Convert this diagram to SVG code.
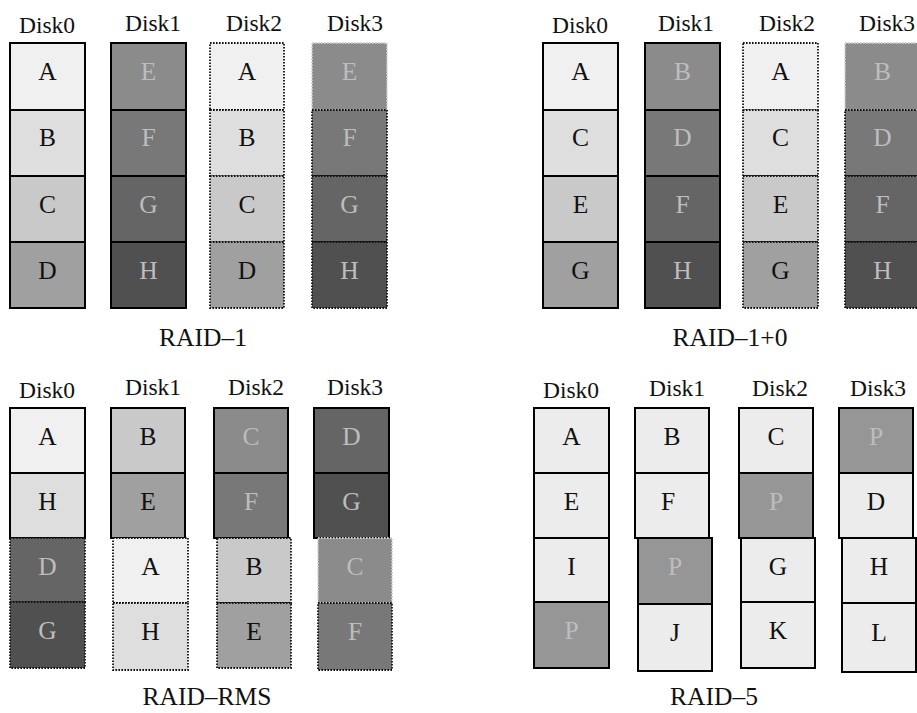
<svg xmlns="http://www.w3.org/2000/svg" width="917" height="713" viewBox="0 0 917 713">
  <style>
    text { font-family: "Liberation Serif", "Times New Roman", serif; text-anchor: middle; }
    .lbl { font-size: 23.5px; fill: #111; }
    .ttl { font-size: 25.5px; fill: #111; }
    .c text { font-size: 25.5px; }
    .s { stroke: #000; stroke-width: 2; }
    .d { stroke: #111; stroke-width: 1.8; stroke-dasharray: 1.6 1.4; }
    .dl { stroke: #d0d0d0; stroke-width: 1.8; stroke-dasharray: 1.6 1.4; }
    .g0 { fill: #f0f0f0; } .g1 { fill: #dedede; } .g2 { fill: #c9c9c9; } .g3 { fill: #a0a0a0; }
    .g4 { fill: #8b8b8b; } .g5 { fill: #787878; } .g6 { fill: #656565; } .g7 { fill: #505050; }
    .g8 { fill: #ececec; } .g9 { fill: #969696; }
    .k { fill: #111; } .w { fill: #bdbdbd; }
  </style>

  <!-- RAID-1 -->
  <g id="raid1">
    <text class="lbl" x="47" y="33">Disk0</text>
    <text class="lbl" x="153" y="31">Disk1</text>
    <text class="lbl" x="254" y="31">Disk2</text>
    <text class="lbl" x="355" y="31">Disk3</text>
    <g id="r1-d0" class="c">
      <g id="r1-d0-a"><rect class="s g0" x="10" y="43" width="75" height="67"/><text class="k" x="47.5" y="79.5">A</text></g>
      <g id="r1-d0-b"><rect class="s g1" x="10" y="110" width="75" height="66"/><text class="k" x="47.5" y="146">B</text></g>
      <g id="r1-d0-c"><rect class="s g2" x="10" y="176" width="75" height="66"/><text class="k" x="47.5" y="212.5">C</text></g>
      <g id="r1-d0-d"><rect class="s g3" x="10" y="242" width="75" height="66"/><text class="k" x="47.5" y="278.5">D</text></g>
    </g>
    <g id="r1-d1" class="c">
      <g id="r1-d1-e"><rect class="s g4" x="111" y="43" width="75" height="67"/><text class="w" x="148.5" y="79.5">E</text></g>
      <g id="r1-d1-f"><rect class="s g5" x="111" y="110" width="75" height="66"/><text class="w" x="148.5" y="146">F</text></g>
      <g id="r1-d1-g"><rect class="s g6" x="111" y="176" width="75" height="66"/><text class="w" x="148.5" y="212.5">G</text></g>
      <g id="r1-d1-h"><rect class="s g7" x="111" y="242" width="75" height="66"/><text class="w" x="148.5" y="278.5">H</text></g>
    </g>
    <g id="r1-d2" class="c">
      <g id="r1-d2-a"><rect class="d g0" x="210" y="43" width="74" height="67"/><text class="k" x="247" y="79.5">A</text></g>
      <g id="r1-d2-b"><rect class="d g1" x="210" y="110" width="74" height="66"/><text class="k" x="247" y="146">B</text></g>
      <g id="r1-d2-c"><rect class="d g2" x="210" y="176" width="74" height="66"/><text class="k" x="247" y="212.5">C</text></g>
      <g id="r1-d2-d"><rect class="d g3" x="210" y="242" width="74" height="66"/><text class="k" x="247" y="278.5">D</text></g>
    </g>
    <g id="r1-d3" class="c">
      <g id="r1-d3-e"><rect class="dl g4" x="312" y="43" width="75" height="67"/><text class="w" x="349.5" y="79.5">E</text></g>
      <g id="r1-d3-f"><rect class="d g5" x="312" y="110" width="75" height="66"/><text class="w" x="349.5" y="146">F</text></g>
      <g id="r1-d3-g"><rect class="d g6" x="312" y="176" width="75" height="66"/><text class="w" x="349.5" y="212.5">G</text></g>
      <g id="r1-d3-h"><rect class="d g7" x="312" y="242" width="75" height="66"/><text class="w" x="349.5" y="278.5">H</text></g>
    </g>
    <text class="ttl" x="203" y="346">RAID–1</text>
  </g>

  <!-- RAID-1+0 -->
  <g id="raid10">
    <text class="lbl" x="580" y="33">Disk0</text>
    <text class="lbl" x="686" y="31">Disk1</text>
    <text class="lbl" x="787" y="31">Disk2</text>
    <text class="lbl" x="887" y="31">Disk3</text>
    <g id="r10-d0" class="c">
      <g id="r10-d0-a"><rect class="s g0" x="543" y="43" width="75" height="67"/><text class="k" x="580.5" y="79.5">A</text></g>
      <g id="r10-d0-c"><rect class="s g1" x="543" y="110" width="75" height="66"/><text class="k" x="580.5" y="146">C</text></g>
      <g id="r10-d0-e"><rect class="s g2" x="543" y="176" width="75" height="66"/><text class="k" x="580.5" y="212.5">E</text></g>
      <g id="r10-d0-g"><rect class="s g3" x="543" y="242" width="75" height="66"/><text class="k" x="580.5" y="278.5">G</text></g>
    </g>
    <g id="r10-d1" class="c">
      <g id="r10-d1-b"><rect class="s g4" x="645" y="43" width="75" height="67"/><text class="w" x="682.5" y="79.5">B</text></g>
      <g id="r10-d1-d"><rect class="s g5" x="645" y="110" width="75" height="66"/><text class="w" x="682.5" y="146">D</text></g>
      <g id="r10-d1-f"><rect class="s g6" x="645" y="176" width="75" height="66"/><text class="w" x="682.5" y="212.5">F</text></g>
      <g id="r10-d1-h"><rect class="s g7" x="645" y="242" width="75" height="66"/><text class="w" x="682.5" y="278.5">H</text></g>
    </g>
    <g id="r10-d2" class="c">
      <g id="r10-d2-a"><rect class="d g0" x="743" y="43" width="75" height="67"/><text class="k" x="780.5" y="79.5">A</text></g>
      <g id="r10-d2-c"><rect class="d g1" x="743" y="110" width="75" height="66"/><text class="k" x="780.5" y="146">C</text></g>
      <g id="r10-d2-e"><rect class="d g2" x="743" y="176" width="75" height="66"/><text class="k" x="780.5" y="212.5">E</text></g>
      <g id="r10-d2-g"><rect class="d g3" x="743" y="242" width="75" height="66"/><text class="k" x="780.5" y="278.5">G</text></g>
    </g>
    <g id="r10-d3" class="c">
      <g id="r10-d3-b"><rect class="dl g4" x="845" y="43" width="75" height="67"/><text class="w" x="882.5" y="79.5">B</text></g>
      <g id="r10-d3-d"><rect class="d g5" x="845" y="110" width="75" height="66"/><text class="w" x="882.5" y="146">D</text></g>
      <g id="r10-d3-f"><rect class="d g6" x="845" y="176" width="75" height="66"/><text class="w" x="882.5" y="212.5">F</text></g>
      <g id="r10-d3-h"><rect class="d g7" x="845" y="242" width="75" height="66"/><text class="w" x="882.5" y="278.5">H</text></g>
    </g>
    <text class="ttl" x="730" y="346">RAID–1+0</text>
  </g>

  <!-- RAID-RMS -->
  <g id="raidrms">
    <text class="lbl" x="47" y="398">Disk0</text>
    <text class="lbl" x="153" y="395">Disk1</text>
    <text class="lbl" x="256" y="395">Disk2</text>
    <text class="lbl" x="355" y="395">Disk3</text>
    <g id="rms-d0" class="c">
      <g id="rms-d0-a"><rect class="s g0" x="10" y="408" width="75" height="65"/><text class="k" x="47.5" y="444.5">A</text></g>
      <g id="rms-d0-h"><rect class="s g1" x="10" y="473" width="75" height="65"/><text class="k" x="47.5" y="509.5">H</text></g>
      <g id="rms-d0-d"><rect class="d g6" x="10" y="538" width="75" height="64"/><text class="w" x="47.5" y="574.5">D</text></g>
      <g id="rms-d0-g"><rect class="d g7" x="10" y="602" width="75" height="66"/><text class="w" x="47.5" y="638.5">G</text></g>
    </g>
    <g id="rms-d1" class="c">
      <g id="rms-d1-b"><rect class="s g2" x="111" y="408" width="74" height="65"/><text class="k" x="148" y="444.5">B</text></g>
      <g id="rms-d1-e"><rect class="s g3" x="111" y="473" width="74" height="65"/><text class="k" x="148" y="509.5">E</text></g>
      <g id="rms-d1-a"><rect class="d g0" x="113" y="538" width="75" height="65"/><text class="k" x="150.5" y="574.5">A</text></g>
      <g id="rms-d1-h"><rect class="d g1" x="113" y="603" width="75" height="67"/><text class="k" x="150.5" y="639.5">H</text></g>
    </g>
    <g id="rms-d2" class="c">
      <g id="rms-d2-c"><rect class="s g4" x="214" y="408" width="74" height="65"/><text class="w" x="251" y="444.5">C</text></g>
      <g id="rms-d2-f"><rect class="s g5" x="214" y="473" width="74" height="65"/><text class="w" x="251" y="509.5">F</text></g>
      <g id="rms-d2-b"><rect class="d g2" x="217" y="538" width="74" height="65"/><text class="k" x="254" y="574.5">B</text></g>
      <g id="rms-d2-e"><rect class="d g3" x="217" y="603" width="74" height="65"/><text class="k" x="254" y="639.5">E</text></g>
    </g>
    <g id="rms-d3" class="c">
      <g id="rms-d3-d"><rect class="s g6" x="314" y="408" width="75" height="65"/><text class="w" x="351.5" y="444.5">D</text></g>
      <g id="rms-d3-g"><rect class="s g7" x="314" y="473" width="75" height="65"/><text class="w" x="351.5" y="509.5">G</text></g>
      <g id="rms-d3-c"><rect class="dl g4" x="318" y="538" width="74" height="65"/><text class="w" x="355" y="574.5">C</text></g>
      <g id="rms-d3-f"><rect class="d g5" x="318" y="603" width="74" height="67"/><text class="w" x="355" y="639.5">F</text></g>
    </g>
    <text class="ttl" x="207" y="705">RAID–RMS</text>
  </g>

  <!-- RAID-5 -->
  <g id="raid5">
    <text class="lbl" x="571" y="398">Disk0</text>
    <text class="lbl" x="677" y="396">Disk1</text>
    <text class="lbl" x="780" y="396">Disk2</text>
    <text class="lbl" x="878" y="396">Disk3</text>
    <g id="r5-d0" class="c">
      <g id="r5-d0-a"><rect class="s g8" x="534" y="408" width="75" height="65"/><text class="k" x="571.5" y="444.5">A</text></g>
      <g id="r5-d0-e"><rect class="s g8" x="534" y="473" width="75" height="65"/><text class="k" x="571.5" y="509.5">E</text></g>
      <g id="r5-d0-i"><rect class="s g8" x="534" y="538" width="75" height="64"/><text class="k" x="571.5" y="574.5">I</text></g>
      <g id="r5-d0-p"><rect class="s g9" x="534" y="602" width="75" height="66"/><text class="w" x="571.5" y="638.5">P</text></g>
    </g>
    <g id="r5-d1" class="c">
      <g id="r5-d1-b"><rect class="s g8" x="635" y="408" width="74" height="65"/><text class="k" x="672" y="444.5">B</text></g>
      <g id="r5-d1-f"><rect class="s g8" x="635" y="473" width="74" height="65"/><text class="k" x="668" y="509.5">F</text></g>
      <g id="r5-d1-p"><rect class="s g9" x="638" y="538" width="74" height="66"/><text class="w" x="675" y="574.5">P</text></g>
      <g id="r5-d1-j"><rect class="s g8" x="638" y="604" width="74" height="67"/><text class="k" x="675" y="640.5">J</text></g>
    </g>
    <g id="r5-d2" class="c">
      <g id="r5-d2-c"><rect class="s g8" x="739" y="408" width="74" height="65"/><text class="k" x="776" y="444.5">C</text></g>
      <g id="r5-d2-p"><rect class="s g9" x="739" y="473" width="74" height="65"/><text class="w" x="776" y="509.5">P</text></g>
      <g id="r5-d2-g"><rect class="s g8" x="741" y="538" width="74" height="64"/><text class="k" x="778" y="574.5">G</text></g>
      <g id="r5-d2-k"><rect class="s g8" x="741" y="602" width="74" height="66"/><text class="k" x="778" y="638.5">K</text></g>
    </g>
    <g id="r5-d3" class="c">
      <g id="r5-d3-p"><rect class="s g9" x="839" y="408" width="74" height="65"/><text class="w" x="876" y="444.5">P</text></g>
      <g id="r5-d3-d"><rect class="s g8" x="839" y="473" width="74" height="65"/><text class="k" x="876" y="509.5">D</text></g>
      <g id="r5-d3-h"><rect class="s g8" x="842" y="538" width="74" height="65"/><text class="k" x="879" y="574.5">H</text></g>
      <g id="r5-d3-l"><rect class="s g8" x="842" y="603" width="74" height="69"/><text class="k" x="879" y="640.5">L</text></g>
    </g>
    <text class="ttl" x="714" y="705">RAID–5</text>
  </g>
</svg>
